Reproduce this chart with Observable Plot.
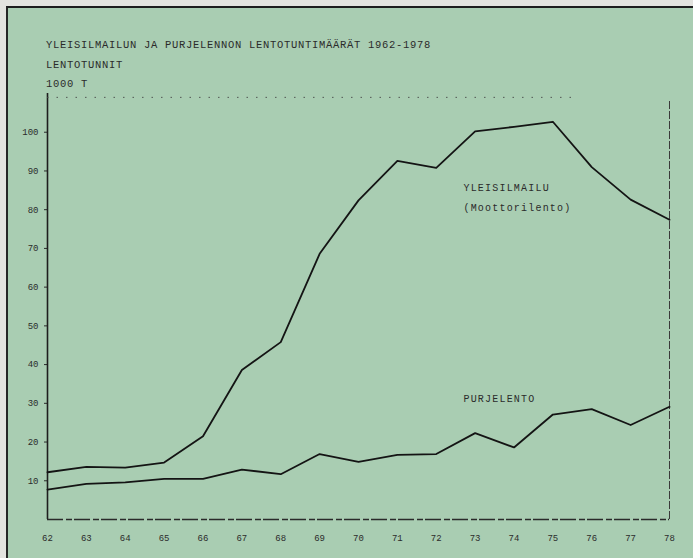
<!DOCTYPE html>
<html>
<head>
<meta charset="utf-8">
<script src="https://cdn.jsdelivr.net/npm/d3@7"></script>
<script src="https://cdn.jsdelivr.net/npm/@observablehq/plot@0.6"></script>
<style>
  html, body { margin: 0; padding: 0; background: #e3e3df; }
  #wrap { position: relative; width: 693px; height: 558px; overflow: hidden; background: #e3e3df; }
  #paper { position: absolute; left: 6px; top: 6px; right: 0; bottom: 0;
           background: #a9cdb2; border-top: 2px solid #1d1d1d; border-left: 2px solid #262626; }
  .tw { position: absolute; left: 46px; font-family: "Liberation Mono", monospace;
        font-size: 10.5px; letter-spacing: 0.7px; color: #2b2b2b; white-space: nowrap; line-height: 12px; }
  #chart { position: absolute; left: 0; top: 0; }
  #chart g[aria-label="text"] text { letter-spacing: 1.2px; }
</style>
</head>
<body>
<div id="wrap">
  <div id="paper"></div>
  <div class="tw" style="top:39px">YLEISILMAILUN JA PURJELENNON LENTOTUNTIMÄÄRÄT 1962-1978</div>
  <div class="tw" style="top:59px">LENTOTUNNIT</div>
  <div class="tw" style="top:78px">1000 T</div>
  <div id="chart"></div>
</div>
<script>
// Years (19xx) on the x axis
const years = [62, 63, 64, 65, 66, 67, 68, 69, 70, 71, 72, 73, 74, 75, 76, 77, 78];
// Flight hours, thousands
const yleisilmailu = [12.2, 13.6, 13.4, 14.7, 21.5, 38.6, 45.8, 68.6, 82.4, 92.6, 90.8, 100.2, 101.4, 102.7, 91.0, 82.6, 77.4];
const purjelento   = [7.7, 9.2, 9.6, 10.5, 10.5, 12.9, 11.7, 16.9, 14.9, 16.7, 16.9, 22.3, 18.6, 27.1, 28.5, 24.4, 29.1];
// Y tick labels
const yTicks = [10, 20, 30, 40, 50, 60, 70, 80, 90, 100];
// Series annotations (anchored in data space)
const labelText = ["YLEISILMAILU", "(Moottorilento)", "PURJELENTO"];
const labelYear = [72.7, 72.7, 72.7];
const labelValue = [85.6, 80.4, 31.1];

const rowsY = years.map((yr, i) => ({year: yr, value: yleisilmailu[i]}));
const rowsP = years.map((yr, i) => ({year: yr, value: purjelento[i]}));
const labels = labelText.map((t, i) => ({text: t, year: labelYear[i], value: labelValue[i]}));

const chart = Plot.plot({
  width: 693,
  height: 558,
  marginLeft: 47,
  marginRight: 24,
  marginTop: 93,
  marginBottom: 39,
  style: {background: "transparent", fontFamily: "Liberation Mono, monospace", fontSize: "9px", color: "#2b2b2b", overflow: "visible"},
  x: {domain: [62, 78], ticks: years, tickFormat: d => String(d), tickSize: 0, tickPadding: 15, label: null},
  y: {domain: [0, 110], ticks: yTicks, tickSize: 3, tickPadding: 6, label: null},
  marks: [
    Plot.ruleX([62], {y1: 0, y2: 110, stroke: "#1e1e1e", strokeWidth: 1.6}),
    Plot.ruleY([0], {x1: 62, x2: 78, stroke: "#2a2a2a", strokeWidth: 1.3, strokeDasharray: "16,3,6,2"}),
    Plot.ruleX([78], {y1: 0, y2: 108, stroke: "#3a3a3a", strokeWidth: 1, strokeDasharray: "8,2"}),
    Plot.ruleY([109], {x1: 62, x2: 75.5, stroke: "#4a4a4a", strokeWidth: 0.9, strokeDasharray: "1.5,8"}),
    Plot.line(rowsY, {x: "year", y: "value", stroke: "#141414", strokeWidth: 1.8}),
    Plot.line(rowsP, {x: "year", y: "value", stroke: "#141414", strokeWidth: 1.8}),
    Plot.text(labels, {x: "year", y: "value", text: "text", textAnchor: "start", fontSize: 10, fill: "#2b2b2b"})
  ]
});
document.getElementById("chart").appendChild(chart);
</script>
</body>
</html>
